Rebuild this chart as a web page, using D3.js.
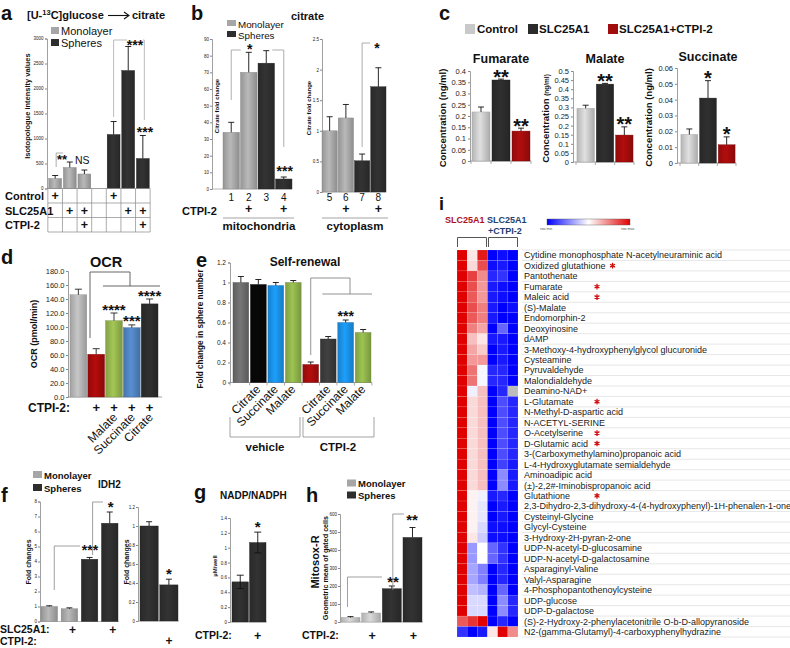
<!DOCTYPE html>
<html><head><meta charset="utf-8">
<script src="https://cdn.jsdelivr.net/npm/d3@7"></script>
<style>
body{margin:0;background:#fff;}
svg{font-family:"Liberation Sans",Arial,Helvetica,sans-serif;}
</style></head><body>
<svg id="c" width="790" height="648"></svg>
<script>
// ================= DATA =================
const msGroups = ["Monolayer","Spheres"];
// panel a
const aCols = ["c1","c2","c3","c4","c5","c6","c7"];
const aValues = [200,420,290,null,1080,2360,600];
const aErrors = [60,110,80,null,260,480,460];
const aGroup = ["Monolayer","Monolayer","Monolayer",null,"Spheres","Spheres","Spheres"];
const aTicks = [0,500,1000,1500,2000,2500,3000];
const aRows = ["Control","SLC25A1","CTPI-2"];
const aPlus = [[1,0,0,0,1,0,0],[0,1,1,0,0,1,1],[0,0,1,0,0,0,1]];
// panel b
const bMitoCats = ["1","2","3","4"];
const bMitoValues = [34,70,75.5,6];
const bMitoErrors = [6,12,7.5,1.2];
const bMitoGroup = ["Monolayer","Monolayer","Spheres","Spheres"];
const bMitoTicks = [0,10,20,30,40,50,60,70,80,90];
const bCytoCats = ["5","6","7","8"];
const bCytoValues = [1.0,1.21,0.51,1.72];
const bCytoErrors = [0.23,0.22,0.11,0.31];
const bCytoGroup = ["Monolayer","Monolayer","Spheres","Spheres"];
const bCytoTicks = [0,0.5,1,1.5,2,2.5];
const bCTPI = ["","+","","+"];
// panel c
const cGroups = ["Control","SLC25A1","SLC25A1+CTPI-2"];
const cMetabolites = ["Fumarate","Malate","Succinate"];
const cFumarate = [0.218,0.36,0.133];
const cFumarateErr = [0.022,0.004,0.013];
const cMalate = [0.295,0.428,0.148];
const cMalateErr = [0.017,0.004,0.045];
const cSuccinate = [0.018,0.041,0.0115];
const cSuccinateErr = [0.0035,0.011,0.005];
const cFumarateTicks = [0,0.05,0.1,0.15,0.2,0.25,0.3,0.35,0.4];
const cMalateTicks = [0,0.05,0.1,0.15,0.2,0.25,0.3,0.35,0.4,0.45,0.5];
const cSuccinateTicks = [0,0.01,0.02,0.03,0.04,0.05,0.06];
const cStars = [["","**","**"],["","**","**"],["","*","*"]];
// panel d
const dCats = ["Control","CTPI-2","Malate","Succinate","Citrate"];
const dValues = [146,61,109,99,133];
const dErrors = [8,8,11,4,7];
const dTicks = [0,20,40,60,80,100,120,140,160,180];
const dCTPI = ["","+","+","+","+"];
const dLabels = ["","","Malate","Succinate","Citrate"];
const dStars = ["","","****","***","****"];
// panel e
const eCats = ["v1","v2","v3","v4","t1","t2","t3","t4"];
const eValues = [1.0,0.98,0.97,1.0,0.18,0.435,0.6,0.5];
const eErrors = [0.06,0.05,0.03,0.02,0.025,0.025,0.025,0.03];
const eLabels = ["","Citrate","Succinate","Malate","","Citrate","Succinate","Malate"];
const eTicks = [0,0.2,0.4,0.6,0.8,1,1.2];
const eGroups = ["vehicle","CTPI-2"];
// panel f
const fCats = ["m1","m2","s1","s2"];
const fValues = [1.0,0.85,4.15,6.55];
const fErrors = [0.05,0.06,0.12,0.75];
const fGroup = ["Monolayer","Monolayer","Spheres","Spheres"];
const fTicks = [0,1,2,3,4,5,6,7,8];
const fSLC = ["","+","","+"];
const fRightCats = ["r1","r2"];
const fRightValues = [1.0,0.38];
const fRightErrors = [0.045,0.06];
const fRightTicks = [0,0.2,0.4,0.6,0.8,1,1.2];
const fCTPI = ["","+"];
// panel g
const gCats = ["g1","g2"];
const gValues = [0.54,1.07];
const gErrors = [0.09,0.14];
const gTicks = [0,0.2,0.4,0.6,0.8,1,1.2,1.4];
const gCTPI = ["","+"];
// panel h
const hCats = ["h1","h2","h3","h4"];
const hValues = [25,50,185,470];
const hErrors = [5,6,15,55];
const hGroup = ["Monolayer","Monolayer","Spheres","Spheres"];
const hTicks = [0,100,200,300,400,500,600];
const hCTPI = ["","+","","+"];
// panel i
const iSamples = ["S1","S2","S3","C1","C2","C3"];
const iMetabolites = [
 "Cytidine monophosphate N-acetylneuraminic acid","Oxidized glutathione","Pantothenate","Fumarate","Maleic acid",
 "(S)-Malate","Endomorphin-2","Deoxyinosine","dAMP","3-Methoxy-4-hydroxyphenylglycol glucuronide","Cysteamine",
 "Pyruvaldehyde","Malondialdehyde","Deamino-NAD+","L-Glutamate","N-Methyl-D-aspartic acid","N-ACETYL-SERINE",
 "O-Acetylserine","D-Glutamic acid","3-(Carboxymethylamino)propanoic acid","L-4-Hydroxyglutamate semialdehyde",
 "Aminoadipic acid","(\u00b1)-2,2#-Iminobispropanoic acid","Glutathione",
 "2,3-Dihydro-2,3-dihydroxy-4-(4-hydroxyphenyl)-1H-phenalen-1-one","Cysteinyl-Glycine","Glycyl-Cysteine",
 "3-Hydroxy-2H-pyran-2-one","UDP-N-acetyl-D-glucosamine","UDP-N-acetyl-D-galactosamine","Asparaginyl-Valine",
 "Valyl-Asparagine","4-Phosphopantothenoylcysteine","UDP-glucose","UDP-D-galactose",
 "(S)-2-Hydroxy-2-phenylacetonitrile O-b-D-allopyranoside","N2-(gamma-Glutamyl)-4-carboxyphenylhydrazine"];
const iStarred = ["Oxidized glutathione","Fumarate","Maleic acid","L-Glutamate","O-Acetylserine","D-Glutamic acid","Glutathione"];
const iValues = [
 [1,0.1,0.9,-1,-0.95,-1],[1,0.15,0.7,-0.95,-0.9,-1],[1,0.75,0.45,-0.85,-0.8,-1],[1,0.7,0.4,-0.9,-0.95,-1],
 [1,0.65,0.4,-0.9,-0.95,-1],[1,0.7,0.5,-0.9,-1,-0.95],[1,0.65,0.5,-0.9,-1,-1],[1,0.5,0.35,-1,-0.6,-1],
 [1,0.25,0.1,-0.9,-0.9,-1],[1,0.35,0.2,-1,-0.9,-1],[1,0.4,0.4,-1,-0.9,-1],[1,0.55,-0.03,-0.85,-0.85,-1],
 [1,0.55,-0.03,-0.85,-0.85,-1],[1,-0.06,0.25,-1,-0.85,null],[1,0.15,0.25,-1,-0.7,-0.85],[1,0.15,0.25,-1,-0.7,-0.85],
 [1,0.15,0.25,-1,-0.7,-0.85],[1,0.15,0.25,-1,-0.7,-0.85],[1,0.15,0.25,-1,-0.7,-0.85],[1,0.15,0.25,-1,-0.7,-0.85],
 [1,0.15,0.25,-1,-0.75,-0.9],[1,0.15,0.25,-1,-0.45,-0.9],[1,0.15,0.25,-1,-0.45,-0.9],[1,0.05,-0.06,-0.9,-0.85,-1],
 [1,0.05,-0.1,-1,-0.9,-1],[1,0.05,-0.1,-1,-0.9,-1],[1,0.05,-0.15,-0.95,-0.95,-1],[1,0.1,-0.2,-0.95,-0.95,-1],
 [1,-0.4,0,-0.6,-0.8,-1],[1,-0.4,0,-0.6,-0.8,-1],[1,-0.35,-0.5,-1,-0.85,-1],[1,-0.35,-0.5,-1,-0.85,-1],
 [1,-0.25,-0.3,-1,-0.6,-1],[1,-0.15,-0.15,-1,-0.45,-0.85],[1,-0.15,-0.15,-1,-0.45,-0.85],[0.65,0.8,1,-1,-0.85,-1],
 [-0.8,-1,-0.9,0.1,1,0.45]];

// ================= DRAWING =================
const FONT = "Liberation Sans, Arial, Helvetica, sans-serif";
const svg = d3.select("#c");
const defs = svg.append("defs");
svg.append("rect").attr("width",790).attr("height",648).attr("fill","#fff");
const msColor = d3.scaleOrdinal(msGroups, ["#a6a6a6","#2e2e2e"]);

const gradCache = {};
function grad(color){
  if(gradCache[color]) return gradCache[color];
  const id = "gr"+Object.keys(gradCache).length;
  const c = d3.color(color);
  const lg = defs.append("linearGradient").attr("id",id).attr("x1","0%").attr("x2","100%").attr("y1","0%").attr("y2","0%");
  lg.append("stop").attr("offset","0%").attr("stop-color",c.darker(0.3));
  lg.append("stop").attr("offset","45%").attr("stop-color",c.brighter(0.3));
  lg.append("stop").attr("offset","100%").attr("stop-color",c.darker(0.45));
  gradCache[color] = `url(#${id})`;
  return gradCache[color];
}
function text(x,y,str,o={}){
  const t = svg.append("text").attr("x",x).attr("y",y).text(str)
    .attr("font-size",o.size||10).attr("font-weight",o.bold?"bold":"normal")
    .attr("text-anchor",o.anchor||"start").attr("fill",o.fill||"#111");
  if(o.rotate!==undefined) t.attr("transform",`rotate(${o.rotate},${x},${y})`);
  return t;
}
function star(x,cy,str,size=14,fill="#111"){ if(str) text(x,cy+0.57*size,str,{size,bold:true,anchor:"middle",fill}); }
function line(pts,stroke="#999",w=0.8){ svg.append("path").attr("d",d3.line()(pts)).attr("fill","none").attr("stroke",stroke).attr("stroke-width",w); }
function cx(xs,c){ return xs(c)+xs.bandwidth()/2; }
function yAxis(scale,x,ticks,fmt,size,o={}){
  const g = svg.append("g").attr("transform",`translate(${x},0)`)
    .call(d3.axisLeft(scale).tickValues(ticks).tickFormat(fmt).tickSize(o.tickSize??2).tickPadding(o.pad??1.5));
  g.attr("font-family",FONT);
  g.selectAll("text").attr("font-size",size).attr("fill","#222");
  g.selectAll("line").attr("stroke","#888");
  g.select(".domain").attr("stroke","#888").attr("stroke-width",0.8);
  return g;
}
function bars(xs,ys,cats,vals,errs,fills,o={}){
  const bw = xs.bandwidth();
  cats.forEach((c,i)=>{
    if(vals[i]==null) return;
    const x0 = xs(c), xc = x0+bw/2;
    svg.append("rect").attr("x",x0).attr("y",ys(vals[i])).attr("width",bw)
      .attr("height",ys(0)-ys(vals[i])).attr("fill",grad(fills[i]))
      .attr("stroke",d3.color(fills[i]).darker(0.7)).attr("stroke-width",0.4);
    if(errs && errs[i]!=null){
      const top = ys(vals[i]+errs[i]);
      const bot = o.both ? ys(vals[i]-errs[i]) : ys(vals[i]);
      const cw = o.cap||3, ec = o.errColor||"#111";
      line([[xc,bot],[xc,top]],ec,0.9);
      line([[xc-cw,top],[xc+cw,top]],ec,0.9);
      if(o.both) line([[xc-cw,bot],[xc+cw,bot]],ec,0.9);
    }
  });
}
function legendMS(x,y0,dy,size,bold,sw=9,sh=7){
  msGroups.forEach((g,i)=>{
    svg.append("rect").attr("x",x).attr("y",y0+i*dy-sh/2-1).attr("width",sw).attr("height",sh).attr("fill",msColor(g));
    text(x+sw+2,y0+i*dy+size*0.36,g,{size,bold});
  });
}
const fmtG = d => String(+d.toFixed(3));

// ---------- panel a ----------
text(1,20,"a",{size:20,bold:true});
{
  const t = svg.append("text").attr("x",27).attr("y",19).attr("font-size",11).attr("font-weight","bold").attr("fill","#111");
  t.append("tspan").text("[U-");
  t.append("tspan").text("13").attr("font-size",7.5).attr("dy",-4);
  t.append("tspan").text("C]glucose").attr("dy",4);
  line([[108,15.5],[128,15.5]],"#111",1.1);
  svg.append("path").attr("d","M124,12 L129,15.5 L124,19").attr("fill","none").attr("stroke","#111").attr("stroke-width",1.1);
  text(132,19,"citrate",{size:11,bold:true});
}
legendMS(51,31.5,12,11,false,8,7);
const yA = d3.scaleLinear([0,3000],[188.5,38.5]);
const xA = d3.scaleBand(aCols,[48,150]).paddingInner(0.12).paddingOuter(0.05);
yAxis(yA,47,aTicks,d3.format("d"),4.5);
text(30,106,"Isotopologue  intensity values",{size:7.5,bold:true,anchor:"middle",rotate:-90});
bars(xA,yA,aCols,aValues,aErrors,aGroup.map(g=>g?msColor(g):"#fff"),{cap:3});
{
  const st = xA.step();
  const edges = aCols.map(c=>cx(xA,c)-st/2).concat([cx(xA,aCols[6])+st/2]);
  const rowY = [188.5,203,217.5,232];
  line([[47,188.5],[edges[7],188.5]],"#888",0.8);
  edges.forEach(x=>line([[x,188.5],[x,232]],"#888",0.7));
  rowY.slice(1).forEach(y=>line([[edges[0],y],[edges[7],y]],"#888",0.7));
  aRows.forEach((r,ri)=>{
    const ym = (rowY[ri]+rowY[ri+1])/2;
    text(5,ym+4.3,r,{size:11,bold:true});
    aPlus[ri].forEach((p,ci)=>{ if(p) text(cx(xA,aCols[ci]),ym+4.5,"+",{size:12.5,bold:true,anchor:"middle"}); });
  });
}
// a significance
line([[cx(xA,"c1")+1,167],[cx(xA,"c1")+1,153],[cx(xA,"c1")+8,153]],"#999",0.8);
star(62,157,"**",13);
text(75,164,"NS",{size:10.5});
line([[cx(xA,"c5"),117],[cx(xA,"c5"),40],[127,40]],"#aaa",0.8);
line([[143,40],[cx(xA,"c7")+1.5,40],[cx(xA,"c7")+1.5,120]],"#aaa",0.8);
star(135,42,"***",14);
star(145,129,"***",14);

// ---------- panel b ----------
text(191,20,"b",{size:20,bold:true});
legendMS(227,24,11,9.8,false,9,6);
text(291,20,"citrate",{size:11,bold:true});
const yB1 = d3.scaleLinear([0,90],[189,39]);
const xB1 = d3.scaleBand(bMitoCats,[223,292]).paddingInner(0.06).paddingOuter(0);
yAxis(yB1,212,bMitoTicks,d3.format("d"),4.5,{tickSize:2,pad:1});
line([[212,189],[292,189]],"#999",0.7);
text(219,106,"Citrate fold change",{size:6,bold:true,anchor:"middle",rotate:-90});
bars(xB1,yB1,bMitoCats,bMitoValues,bMitoErrors,bMitoGroup.map(msColor),{cap:3});
line([[cx(xB1,"1"),100],[cx(xB1,"1"),50],[cx(xB1,"2")-8,50]],"#999",0.8);
star(cx(xB1,"2")+1,46,"*",14);
line([[cx(xB1,"3")+6,50],[cx(xB1,"4"),50],[cx(xB1,"4"),147]],"#999",0.8);
star(cx(xB1,"4")+1,168,"***",14);
const yB2 = d3.scaleLinear([0,2.5],[192,39]);
const xB2 = d3.scaleBand(bCytoCats,[322,386]).paddingInner(0.06).paddingOuter(0);
yAxis(yB2,322,bCytoTicks,fmtG,4.5,{tickSize:2,pad:1});
line([[322,192],[386,192]],"#999",0.7);
text(311,108,"Citrate fold change",{size:6,bold:true,anchor:"middle",rotate:-90});
bars(xB2,yB2,bCytoCats,bCytoValues,bCytoErrors,bCytoGroup.map(msColor),{cap:3});
line([[cx(xB2,"7"),147],[cx(xB2,"7"),43],[cx(xB2,"7")+8,43]],"#999",0.8);
star(377,45,"*",14);
[[xB1,bMitoCats],[xB2,bCytoCats]].forEach(([xs,cats])=>{
  cats.forEach((c,i)=>{
    text(cx(xs,c),201,c,{size:10,anchor:"middle"});
    if(bCTPI[i]) text(cx(xs,c),213,bCTPI[i],{size:12.5,bold:true,anchor:"middle"});
  });
});
text(182,215,"CTPI-2",{size:11,bold:true});
line([[223,218],[294,218]],"#999",0.9);
line([[322,218],[388,218]],"#999",0.9);
text(259,230,"mitochondria",{size:11.5,bold:true,anchor:"middle"});
text(355,230,"cytoplasm",{size:11.5,bold:true,anchor:"middle"});

// ---------- panel c ----------
text(439,20,"c",{size:20,bold:true});
const cColor = d3.scaleOrdinal(cGroups,["#c9c9c9","#2b2b2b","#a10c0c"]);
[[465,477],[528,539],[608,619]].forEach(([sx,tx],i)=>{
  svg.append("rect").attr("x",sx).attr("y",24).attr("width",10).attr("height",10).attr("fill",cColor(cGroups[i]));
  text(tx,33,cGroups[i],{size:11.5,bold:true});
});
const cPanels = [
  {vals:cFumarate,errs:cFumarateErr,ticks:cFumarateTicks,max:0.4,yr:[161,71],xr:[471,531],ax:470,lx:446,small:false},
  {vals:cMalate,errs:cMalateErr,ticks:cMalateTicks,max:0.5,yr:[162,71],xr:[576,634],ax:573,lx:549,small:true},
  {vals:cSuccinate,errs:cSuccinateErr,ticks:cSuccinateTicks,max:0.06,yr:[163,68],xr:[680,736],ax:677,lx:652,small:false}
];
cPanels.forEach((p,k)=>{
  const ys = d3.scaleLinear([0,p.max],p.yr);
  const xs = d3.scaleBand(cGroups,p.xr).paddingInner(0.1).paddingOuter(0.05);
  yAxis(ys,p.ax,p.ticks,fmtG,7.5,{tickSize:2,pad:2});
  line([[p.ax,p.yr[0]],[p.xr[1],p.yr[0]]],"#888",0.8);
  [p.xr[0]].concat(cGroups.map(g=>xs(g)+xs.bandwidth()+xs.step()*0.05)).forEach(x=>line([[x,p.yr[0]],[x,p.yr[0]+3]],"#888",0.7));
  bars(xs,ys,cGroups,p.vals,p.errs,cGroups.map(cColor),{cap:3});
  text((p.xr[0]+p.xr[1])/2,k===2?61:63,cMetabolites[k],{size:12.5,bold:true,anchor:"middle"});
  const cyl = (p.yr[0]+p.yr[1])/2+2;
  if(p.small){
    const t = svg.append("text").attr("x",p.lx).attr("y",cyl).attr("text-anchor","middle")
      .attr("transform",`rotate(-90,${p.lx},${cyl})`).attr("font-weight","bold").attr("fill","#111");
    t.append("tspan").text("Concentration ").attr("font-size",9.5);
    t.append("tspan").text("(ng/ml)").attr("font-size",6.5);
  } else text(p.lx,cyl,"Concentration (ng/ml)",{size:9.5,bold:true,anchor:"middle",rotate:-90});
  cGroups.forEach((g,i)=>star(cx(xs,g),ys(p.vals[i]+p.errs[i])-7,cStars[k][i],20));
});

// ---------- panel d ----------
text(1,264,"d",{size:20,bold:true});
text(106,267,"OCR",{size:14.5,bold:true,anchor:"middle"});
const yD = d3.scaleLinear([0,180],[397,271]);
const xD = d3.scaleBand(dCats,[70,158]).paddingInner(0.06).paddingOuter(0);
const dColor = d3.scaleOrdinal(dCats,["#b3b3b3","#a30b0b","#93b34c","#4f81bd","#2b2b2b"]);
yAxis(yD,68,dTicks,d3.format(".1f"),7.5,{tickSize:2,pad:1.5});
line([[68,397],[162,397]],"#888",0.8);
text(37,334,"OCR (pmol/min)",{size:9,bold:true,anchor:"middle",rotate:-90});
bars(xD,yD,dCats,dValues,dErrors,dCats.map(dColor),{cap:3.5,errColor:"#222"});
line([[90,338],[90,272],[130,272],[130,286]],"#555",0.9);
line([[103,286],[160,286]],"#555",0.9);
dCats.forEach((c,i)=>{
  star(cx(xD,c),yD(dValues[i]+dErrors[i])-7,dStars[i],15);
  if(dCTPI[i]) text(cx(xD,c),412,dCTPI[i],{size:13,bold:true,anchor:"middle"});
  if(dLabels[i]) text(cx(xD,c)+4,418,dLabels[i],{size:12,anchor:"end",rotate:-45});
});
text(28,412,"CTPI-2:",{size:12,bold:true});

// ---------- panel e ----------
text(196,267,"e",{size:20,bold:true});
text(305,266,"Self-renewal",{size:12,bold:true,anchor:"middle"});
const yE = d3.scaleLinear([0,1.2],[382.5,262.5]);
const xE = d3.scaleBand(eCats,[233,371]).paddingInner(0.1).paddingOuter(0);
const eColor = d3.scaleOrdinal(eCats,["#6a6a6a","#070707","#1a8fe3","#8db04a","#a30d0d","#3a3a3a","#1a8fe3","#8db04a"]);
yAxis(yE,230,eTicks,fmtG,6.5,{tickSize:2,pad:2});
line([[230,382.5],[372,382.5]],"#888",0.8);
[230].concat(eCats.map(c=>xE(c)+xE.bandwidth()+xE.step()*0.05)).forEach(x=>line([[x,382.5],[x,385.5]],"#888",0.7));
text(203,329,"Fold change in sphere number",{size:8.2,bold:true,anchor:"middle",rotate:-90});
bars(xE,yE,eCats,eValues,eErrors,eCats.map(eColor),{cap:3});
eCats.forEach((c,i)=>{ if(eLabels[i]) text(cx(xE,c)+3,390,eLabels[i],{size:12,anchor:"end",rotate:-45}); });
line([[cx(xE,"t1"),355],[cx(xE,"t1"),278],[350,278],[350,294]],"#777",0.8);
line([[xE("t2")+2,294],[372,294]],"#777",0.8);
star(cx(xE,"t3"),yE(eValues[6]+eErrors[6])-7,"***",14);
line([[230,417],[230,437],[300,437],[300,417]],"#999",0.9);
line([[303,417],[303,437],[374,437],[374,417]],"#999",0.9);
text(265,451,eGroups[0],{size:11.5,bold:true,anchor:"middle"});
text(338,451,eGroups[1],{size:11.5,bold:true,anchor:"middle"});

// ---------- panel f ----------
text(1,502,"f",{size:20,bold:true});
legendMS(33,475.5,13,9.5,true,9,7);
text(98,488,"IDH2",{size:10,bold:true});
const yF = d3.scaleLinear([0,8],[621.5,501.5]);
const xF = d3.scaleBand(fCats,[41,118]).paddingInner(0.18).paddingOuter(0);
yAxis(yF,40,fTicks,d3.format("d"),4.5,{tickSize:2,pad:1});
line([[40,621.5],[119,621.5]],"#999",0.7);
text(31,562,"Fold changes",{size:7,bold:true,anchor:"middle",rotate:-90});
bars(xF,yF,fCats,fValues,fErrors,fGroup.map(msColor),{cap:3});
line([[cx(xF,"m1")+5,590],[cx(xF,"m1")+5,546],[80,546]],"#888",0.8);
star(90,547,"***",14);
line([[cx(xF,"s1")+3,555],[cx(xF,"s1")+3,502],[103,502]],"#888",0.8);
star(cx(xF,"s2")+1,503,"*",15);
const yF2 = d3.scaleLinear([0,1.2],[621,507]);
const xF2 = d3.scaleBand(fRightCats,[140,178]).paddingInner(0.08).paddingOuter(0);
yAxis(yF2,138,fRightTicks,fmtG,4.5,{tickSize:2,pad:1});
line([[138,621],[179,621]],"#999",0.7);
text(129,562,"Fold changes",{size:7,bold:true,anchor:"middle",rotate:-90});
bars(xF2,yF2,fRightCats,fRightValues,fRightErrors,["#2e2e2e","#2e2e2e"],{cap:3});
star(cx(xF2,"r2"),yF2(fRightValues[1]+fRightErrors[1])-9,"*",15);
text(0,633,"SLC25A1:",{size:10.5,bold:true});
text(0,645,"CTPI-2:",{size:10.5,bold:true});
fCats.forEach((c,i)=>{ if(fSLC[i]) text(cx(xF,c)+3,634,fSLC[i],{size:12,bold:true,anchor:"middle"}); });
fRightCats.forEach((c,i)=>{ if(fCTPI[i]) text(cx(xF2,c),644.5,fCTPI[i],{size:12,bold:true,anchor:"middle"}); });

// ---------- panel g ----------
text(194,499,"g",{size:20,bold:true});
text(220,499,"NADP/NADPH",{size:10,bold:true});
const yG = d3.scaleLinear([0,1.4],[622,518]);
const xG = d3.scaleBand(gCats,[232,266]).paddingInner(0.06).paddingOuter(0);
yAxis(yG,230,gTicks,fmtG,4.5,{tickSize:2,pad:1});
line([[230,622],[267,622]],"#999",0.7);
text(217,566,"\u00b5M/well",{size:6,bold:true,anchor:"middle",rotate:-90});
bars(xG,yG,gCats,gValues,gErrors,["#2e2e2e","#2e2e2e"],{cap:3.5,both:true});
star(cx(xG,"g2"),yG(gValues[1]+gErrors[1])-9,"*",15);
text(195,639,"CTPI-2:",{size:10.5,bold:true});
gCats.forEach((c,i)=>{ if(gCTPI[i]) text(cx(xG,c),640,gCTPI[i],{size:12.5,bold:true,anchor:"middle"}); });

// ---------- panel h ----------
text(306,502,"h",{size:20,bold:true});
legendMS(347,484,12,9.5,true,9,7);
const yH = d3.scaleLinear([0,600],[622,514]);
const xH = d3.scaleBand(hCats,[341,422]).paddingInner(0.08).paddingOuter(0);
yAxis(yH,340,hTicks,d3.format("d"),4.5,{tickSize:2,pad:1});
line([[340,622],[423,622]],"#999",0.7);
text(319,562,"Mitosox-R",{size:11,bold:true,anchor:"middle",rotate:-90});
text(328,568,"Geometric mean of gated cells",{size:7.2,bold:true,anchor:"middle",rotate:-90});
bars(xH,yH,hCats,hValues,hErrors,hGroup.map(g=>g==="Monolayer"?"#c4c4c4":"#2e2e2e"),{cap:3});
line([[cx(xH,"h1")-3,607],[cx(xH,"h1")-3,577],[382,577]],"#888",0.8);
star(393,578,"**",15);
line([[cx(xH,"h3")+1,590],[cx(xH,"h3")+1,514],[404,514]],"#888",0.8);
star(412,516,"**",15);
text(302,639,"CTPI-2:",{size:10.5,bold:true});
hCats.forEach((c,i)=>{ if(hCTPI[i]) text(cx(xH,c)+1,640,hCTPI[i],{size:12.5,bold:true,anchor:"middle"}); });

// ---------- panel i ----------
text(439,210,"i",{size:18,bold:true});
text(445,223,"SLC25A1",{size:9,bold:true,fill:"#b0101c"});
text(487,223,"SLC25A1",{size:9,bold:true,fill:"#23406e"});
text(488,234,"+CTPI-2",{size:9,bold:true,fill:"#23406e"});
const heat = d3.scaleLinear([-1,0,1],["#0000ff","#ffffff","#e00000"]);
{
  const lg = defs.append("linearGradient").attr("id","hbar");
  [-1,-0.5,0,0.5,1].forEach(v=>lg.append("stop").attr("offset",((v+1)/2*100)+"%").attr("stop-color",heat(v)));
  svg.append("rect").attr("x",547).attr("y",219).attr("width",83).attr("height",6).attr("fill","url(#hbar)").attr("stroke","#555").attr("stroke-width",0.4);
  text(540,230,"row min",{size:3.5,fill:"#555"});
  text(621,230,"row max",{size:3.5,fill:"#555"});
}
const xI = d3.scaleBand(iSamples,[457,518]);
const yI = d3.scaleBand(iMetabolites,[250,637]);
line([[xI("S1")+0.5,247],[xI("S1")+0.5,237.5],[xI("S3")+xI.bandwidth()-1,237.5],[xI("S3")+xI.bandwidth()-1,247]],"#555",1);
line([[xI("C1")+1,247],[xI("C1")+1,237.5],[xI("C3")+xI.bandwidth()-0.5,237.5],[xI("C3")+xI.bandwidth()-0.5,247]],"#555",1);
iMetabolites.forEach((m,r)=>{
  iSamples.forEach((s,c)=>{
    const v = iValues[r][c];
    svg.append("rect").attr("x",xI(s)).attr("y",yI(m)).attr("width",xI.bandwidth()).attr("height",yI.bandwidth())
      .attr("fill",v==null?"#bdbdbd":heat(v)).attr("stroke","rgba(255,255,255,0.25)").attr("stroke-width",0.4);
  });
  line([[522,yI(m)+yI.bandwidth()],[790,yI(m)+yI.bandwidth()]],"#dcdcdc",0.7);
  const t = text(524,yI(m)+yI.bandwidth()/2+3.2,m,{size:9,fill:"#222"});
  if(iStarred.includes(m)){
    const end = 524+t.node().getComputedTextLength();
    const sx = end>590 ? end+7 : 597;
    svg.append("path").attr("transform",`translate(${sx},${yI(m)+yI.bandwidth()/2})`)
      .attr("d",d3.symbol(d3.symbolAsterisk,22)()).attr("stroke","#d01010").attr("stroke-width",1.3).attr("fill","none");
  }
});
line([[522,250],[790,250]],"#dcdcdc",0.7);
</script>
</body></html>
